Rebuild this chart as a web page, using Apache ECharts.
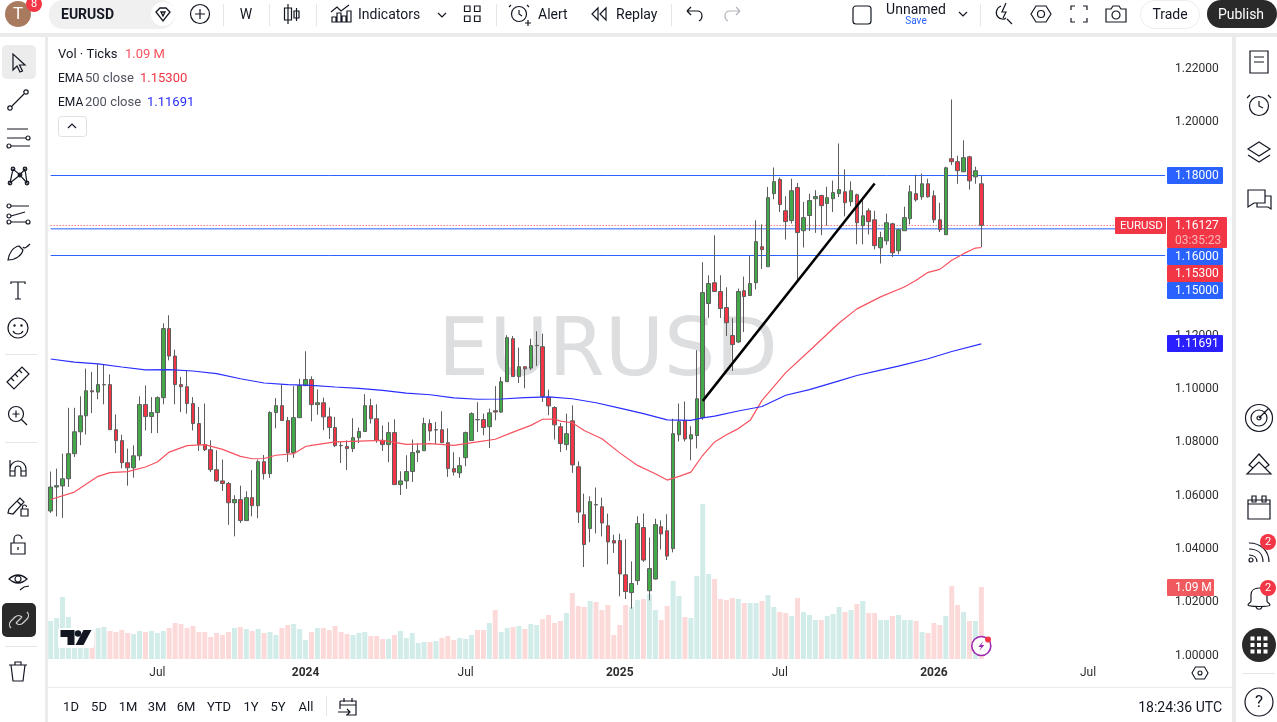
<!DOCTYPE html>
<html>
<head>
<meta charset="utf-8">
<title>EURUSD</title>
<script src="https://cdn.jsdelivr.net/npm/echarts@6/dist/echarts.min.js"></script>
<style>html,body{margin:0;padding:0;background:#ebebeb}#main{width:1277px;height:722px}</style>
</head>
<body>
<div id="main"></div>
<script>
// weekly EURUSD candles
var opens = [
1.0542,1.0632,1.0636,1.0663,1.0757,1.0839,1.0899,1.0993,1.0988,1.1015,
1.1016,1.0847,1.0806,1.0723,1.0704,1.0749,1.0941,1.0896,1.0911,1.0967,
1.1226,1.1123,1.1016,1.1008,1.0945,1.0870,1.0791,1.0772,1.0697,1.0655,
1.0645,1.0573,1.0585,1.0506,1.0592,1.0562,1.0727,1.0682,1.0911,1.0937,
1.0881,1.0761,1.0892,1.1012,1.1035,1.0941,1.0948,1.0895,1.0855,1.0788,
1.0784,1.0776,1.0817,1.0840,1.0937,1.0888,1.0807,1.0791,1.0836,1.0641,
1.0655,1.0690,1.0761,1.0768,1.0870,1.0846,1.0847,1.0798,1.0701,1.0685,
1.0742,1.0806,1.0885,1.0885,1.0858,1.0918,1.0913,1.1027,1.1188,1.1046,
1.1083,1.1078,1.1162,1.1158,1.0968,1.0930,1.0858,1.0791,1.0880,1.0708,
1.0528,1.0476,1.0566,1.0558,1.0487,1.0431,1.0431,1.0303,1.0236,1.0281,
1.0480,1.0243,1.0287,1.0483,1.0468,1.0401,1.0828,1.0881,1.0812,1.0825,
1.0893,1.1320,1.1398,1.1365,1.1305,1.1200,1.1176,1.1368,1.1350,1.1398,
1.1533,1.1458,1.1732,1.1785,1.1668,1.1631,1.1755,1.1593,1.1650,1.1713,
1.1725,1.1695,1.1713,1.1732,1.1739,1.1702,1.1728,1.1612,1.1668,1.1634,
1.1529,1.1555,1.1619,1.1518,1.1593,1.1638,1.1732,1.1720,1.1769,1.1724,
1.1634,1.1578,1.1863,1.1852,1.1814,1.1870,1.1795,1.1769];
var closes = [
1.0632,1.0637,1.0663,1.0757,1.0839,1.0899,1.0993,1.0989,1.1016,1.1016,
1.0847,1.0806,1.0723,1.0704,1.0749,1.0941,1.0896,1.0911,1.0967,1.1226,
1.1123,1.1016,1.1008,1.0945,1.0870,1.0791,1.0772,1.0697,1.0655,1.0645,
1.0573,1.0585,1.0506,1.0592,1.0562,1.0727,1.0682,1.0911,1.0937,1.0881,
1.0761,1.0892,1.1012,1.1035,1.0941,1.0948,1.0895,1.0855,1.0787,1.0787,
1.0776,1.0817,1.0840,1.0937,1.0888,1.0807,1.0791,1.0836,1.0641,1.0655,
1.0690,1.0761,1.0768,1.0870,1.0842,1.0847,1.0798,1.0701,1.0688,1.0712,
1.0836,1.0907,1.0884,1.0855,1.0910,1.0913,1.1027,1.1192,1.1046,1.1083,
1.1075,1.1162,1.1163,1.0972,1.0936,1.0865,1.0795,1.0832,1.0715,1.0538,
1.0416,1.0577,1.0565,1.0497,1.0426,1.0422,1.0306,1.0240,1.0270,1.0495,
1.0358,1.0326,1.0491,1.0456,1.0373,1.0832,1.0877,1.0812,1.0828,1.0963,
1.1361,1.1395,1.1365,1.1301,1.1248,1.1166,1.1365,1.1346,1.1395,1.1552,
1.1522,1.1717,1.1777,1.1691,1.1627,1.1743,1.1586,1.1642,1.1706,1.1721,
1.1687,1.1717,1.1736,1.1747,1.1698,1.1743,1.1623,1.1649,1.1627,1.1537,
1.1567,1.1623,1.1510,1.1597,1.1642,1.1739,1.1709,1.1769,1.1720,1.1634,
1.1597,1.1829,1.1852,1.1818,1.1867,1.1780,1.1818,1.1613];
var highs = [
1.0690,1.0701,1.0757,1.0929,1.0929,1.0972,1.1076,1.1063,1.1094,1.1091,
1.1054,1.0904,1.0828,1.0776,1.0788,1.0972,1.1013,1.0969,1.0972,1.1246,
1.1276,1.1147,1.1045,1.1067,1.0969,1.0932,1.0945,1.0807,1.0770,1.0735,
1.0651,1.0601,1.0637,1.0616,1.0695,1.0735,1.0752,1.0916,1.0965,1.1016,
1.0895,1.1010,1.1038,1.1141,1.1047,1.0998,1.0967,1.0930,1.0895,1.0801,
1.0807,1.0890,1.0855,1.0980,1.0963,1.0942,1.0863,1.0875,1.0886,1.0691,
1.0751,1.0810,1.0795,1.0892,1.0886,1.0876,1.0916,1.0852,1.0762,1.0744,
1.0840,1.0912,1.0950,1.0907,1.0926,1.1010,1.1045,1.1201,1.1198,1.1155,
1.1083,1.1188,1.1216,1.1207,1.0997,1.0935,1.0872,1.0907,1.0938,1.0728,
1.0607,1.0597,1.0630,1.0592,1.0532,1.0453,1.0457,1.0436,1.0353,1.0522,
1.0533,1.0443,1.0513,1.0507,1.0530,1.0888,1.0945,1.0953,1.0860,1.1145,
1.1475,1.1426,1.1576,1.1426,1.1381,1.1265,1.1376,1.1421,1.1498,1.1632,
1.1617,1.1757,1.1830,1.1792,1.1722,1.1788,1.1772,1.1701,1.1732,1.1745,
1.1728,1.1758,1.1781,1.1920,1.1823,1.1778,1.1732,1.1717,1.1677,1.1668,
1.1589,1.1657,1.1623,1.1600,1.1683,1.1763,1.1803,1.1807,1.1788,1.1744,
1.1698,1.1833,1.2085,1.1874,1.1932,1.1874,1.1833,1.1799];
var lows = [
1.0535,1.0522,1.0516,1.0632,1.0744,1.0789,1.0829,1.0909,1.0961,1.0942,
1.0847,1.0759,1.0702,1.0637,1.0667,1.0732,1.0844,1.0834,1.0834,1.0942,
1.1107,1.0942,1.0913,1.0907,1.0844,1.0767,1.0767,1.0688,1.0651,1.0617,
1.0490,1.0447,1.0497,1.0506,1.0522,1.0515,1.0660,1.0666,1.0852,1.0881,
1.0726,1.0741,1.0892,1.1012,1.0878,1.0903,1.0845,1.0812,1.0782,1.0722,
1.0696,1.0763,1.0797,1.0840,1.0870,1.0798,1.0767,1.0725,1.0641,1.0602,
1.0625,1.0651,1.0726,1.0768,1.0805,1.0792,1.0798,1.0670,1.0675,1.0666,
1.0710,1.0806,1.0838,1.0826,1.0778,1.0882,1.0910,1.1027,1.1046,1.1022,
1.1002,1.1070,1.1086,1.0951,1.0901,1.0810,1.0763,1.0770,1.0685,1.0497,
1.0332,1.0425,1.0458,1.0447,1.0342,1.0385,1.0222,1.0212,1.0176,1.0265,
1.0351,1.0207,1.0285,1.0398,1.0358,1.0387,1.0803,1.0803,1.0732,1.0777,
1.0884,1.1266,1.1365,1.1266,1.1198,1.1067,1.1172,1.1213,1.1350,1.1373,
1.1450,1.1458,1.1711,1.1663,1.1560,1.1620,1.1407,1.1530,1.1592,1.1585,
1.1576,1.1612,1.1663,1.1719,1.1647,1.1685,1.1542,1.1542,1.1579,1.1523,
1.1470,1.1540,1.1494,1.1505,1.1593,1.1617,1.1702,1.1709,1.1717,1.1622,
1.1588,1.1578,1.1839,1.1769,1.1814,1.1747,1.1769,1.1532];
// tick volume in millions
var volumes = [
.575,.621,.939,.636,.389,.338,.389,.409,.469,.484,
.424,.409,.439,.394,.378,.424,.409,.424,.394,.424,
.469,.545,.530,.469,.500,.409,.409,.333,.394,.363,
.409,.469,.484,.454,.424,.454,.394,.409,.363,.469,
.515,.530,.454,.288,.409,.469,.469,.439,.500,.409,
.378,.363,.394,.409,.348,.348,.303,.303,.363,.424,
.318,.394,.242,.257,.257,.272,.318,.348,.288,.318,
.303,.363,.439,.439,.545,.742,.409,.469,.484,.500,
.454,.530,.515,.606,.666,.545,.575,.696,.999,.802,
.787,.878,.863,.742,.817,.363,.515,.817,.787,.893,
.908,.984,.742,.590,.802,1.181,.954,.636,.621,1.256,
2.346,1.287,1.211,.908,.893,.923,.908,.848,.848,.848,
.878,.969,.787,.711,.696,.651,.923,.711,.666,.590,
.590,.651,.681,.787,.711,.742,.833,.878,.696,.696,
.590,.590,.651,.666,.590,.590,.575,.409,.394,.545,
.515,.651,1.105,.817,.711,.575,.575,1.09];

// moving averages read at a spaced set of weeks
var ema50Weeks = [0,4,8,10,13,16,18,20,23,26,29,32,34,36,38,41,43,44,48,52,56,60,64,68,72,75,78,81,83,85,86,88,90,93,96,99,102,104,106,108,110,112,114,116,118,120,124,128,133,136,140,144,146,148,150,152,154,156,157];
var ema50Values = [1.0585,1.0613,1.0672,1.0686,1.0690,1.0707,1.0726,1.0763,1.0787,1.0791,1.0773,1.0747,1.0738,1.0739,1.0751,1.0757,1.0784,1.0788,1.0801,1.0804,1.0807,1.0792,1.0795,1.0788,1.0801,1.0811,1.0838,1.0863,1.0886,1.0887,1.0879,1.0873,1.0844,1.0813,1.0760,1.0713,1.0682,1.0658,1.0672,1.0688,1.0751,1.0801,1.0828,1.0851,1.0882,1.0957,1.1061,1.1143,1.1247,1.1300,1.1345,1.1382,1.1407,1.1437,1.1448,1.1482,1.1507,1.1528,1.1530];
var ema200Weeks = [0,4,8,12,16,20,24,28,32,36,40,44,48,52,56,60,64,68,72,76,80,84,88,92,96,100,104,108,110,112,116,120,124,128,133,136,140,143,148,152,157];
var ema200Values = [1.1112,1.1100,1.1094,1.1082,1.1071,1.1072,1.1067,1.1057,1.1038,1.1022,1.1016,1.1013,1.1007,1.1002,1.0994,1.0984,1.0978,1.0966,1.0961,1.0962,1.0967,1.0970,1.0963,1.0948,1.0928,1.0907,1.0884,1.0882,1.0891,1.0898,1.0917,1.0934,1.0976,1.0997,1.1030,1.1050,1.1070,1.1085,1.1113,1.1140,1.1169];

var trendWeeks = [110, 139];
var trendPrices = [1.0955, 1.1770];
var levels = [1.18, 1.16, 1.15];
var lastPrice = 1.16127;
var tickWeeks = [18, 43, 70, 96, 123, 149, 175];
var tickNames = ['Jul', '2024', 'Jul', '2025', 'Jul', '2026', 'Jul'];
var weekCount = 189; // includes the empty weeks on the right

var FONT = 'Roboto';
var INK = '#131722';
var BAND = 5.928;
var iconCount = 0;

function pairs(xs, ys) {
  return xs.map(function (x, i) { return [x, ys[i]]; });
}
function txt(s, x, y, o) {
  o = o || {};
  return {
    type: 'text', x: x, y: y + 1, z: o.z == null ? 30 : o.z, silent: true,
    style: {
      text: s, fill: o.c || INK, fontSize: o.s || 14, fontFamily: o.f || FONT, fontWeight: o.w || 'normal',
      align: o.a || 'left', textAlign: o.a || 'left', verticalAlign: 'middle', textVerticalAlign: 'middle'
    }
  };
}
function box(x, y, w, h, fill, o) {
  o = o || {};
  return {
    type: 'rect', z: o.z == null ? 30 : o.z, silent: true,
    shape: { x: x, y: y, width: w, height: h, r: o.r || 0 },
    style: { fill: fill, stroke: o.stroke || null, lineWidth: o.lw || 1 }
  };
}
// the graphic component has no plain path type, so each icon is registered as a shape
function ic(d, x, y, o) {
  o = o || {};
  var name = 'icon' + (iconCount++);
  echarts.graphic.registerShape(name, echarts.graphic.extendPath(d, {}));
  return {
    type: name, x: x, y: y, z: o.z == null ? 30 : o.z, silent: true,
    style: { fill: o.fill || 'none', stroke: o.fill && !o.c ? null : (o.c || INK), lineWidth: o.w || 1.2 }
  };
}
function dot(x, y, r, fill, o) {
  o = o || {};
  return {
    type: 'circle', z: o.z == null ? 30 : o.z, silent: true,
    shape: { cx: x, cy: y, r: r },
    style: { fill: fill, stroke: o.stroke || null, lineWidth: o.lw || 1 }
  };
}
function circ(x, y, r) {
  return 'M' + (x + r) + ' ' + y + 'a' + r + ' ' + r + ' 0 1 0 ' + (-2 * r) + ' 0a' + r + ' ' + r + ' 0 1 0 ' + (2 * r) + ' 0';
}
function sq(x, y) { return 'M' + (x - 2) + ' ' + (y - 2) + 'h4v4h-4z'; }
function sepV(x, y0, y1) { return box(x, y0, 1, y1 - y0, '#e6e6e6'); }
function sepH(x0, x1, y) { return box(x0, y, x1 - x0, 1, '#e6e6e6'); }

var chrome = [
  // panels
  box(0, 0, 1277, 33, '#fff', { z: -1 }),
  box(0, 37, 45, 685, '#fff', { z: -1 }),
  box(48, 37, 1184, 650, '#fff', { z: -1 }),
  box(48, 688, 1184, 34, '#fff', { z: -1 }),
  box(1236, 37, 41, 685, '#fff', { z: -1 }),
  // watermark
  txt('EURUSD', 608, 353, { s: 81, f: 'DejaVu Sans', c: '#dcdee0', a: 'center', z: 0 }),

  // top bar
  dot(18, 14, 13, '#a87b5e'),
  txt('T', 18, 14, { c: '#fff', s: 17, a: 'center' }),
  dot(34, 4, 8, '#f23645'),
  txt('8', 34, 3, { c: '#fff', s: 11, a: 'center' }),
  box(49, 0, 126, 29, '#f0f0f0', { r: 14 }),
  txt('EURUSD', 61, 14, { s: 14, w: 'bold' }),
  dot(163, 14, 12, '#fff'),
  ic('M-7 -3L-3 -7H3L7 -3L0 6Z M-2 -3L0 1L2 -3Z', 163, 15, { w: 1.3 }),
  ic(circ(0, 0, 9.5) + 'M-5 0H5M0 -5V5', 200, 14),
  sepV(223, 4, 26),
  txt('W', 246, 14, { a: 'center', s: 14 }),
  sepV(269, 4, 26),
  ic('M-4 -10V10M-7.5 -6H-0.5V6H-7.5Z M4.5 -6V7M2 -3H7V4H2Z', 292, 14),
  sepV(316, 4, 26),
  ic('M-9 8V3H-5V8Z M-4 8V-1H0V8Z M1 8V2H5V8Z M6 8V-3H10V8Z M-10 -2L-4 -7L0 -3L8 -9', 341, 14),
  txt('Indicators', 358, 14),
  ic('M-4 -2L0 2L4 -2', 442, 15),
  ic('M-7.5 -8h5.5v5.5h-5.5z M2.5 -8h5.5v5.5h-5.5z M-7.5 2h5.5v5.5h-5.5z M2.5 2h5.5v5.5h-5.5z', 472, 14),
  sepV(496, 4, 26),
  ic(circ(0, 0, 7.5) + 'M0 -4V0L3 2 M-8 -9L-10 -7 M8 -9L10 -7 M6 9H12M9 6V12', 519, 14),
  txt('Alert', 538, 14),
  ic('M-1 -6L-7 0L-1 6Z M7 -6L1 0L7 6Z', 599, 14),
  txt('Replay', 616, 14),
  sepV(671, 4, 26),
  ic('M-7 -3H3C7 -3 8 0 8 2C8 4 7 6 5 7 M-7 -3L-3 -7 M-7 -3L-3 1', 694, 14),
  ic('M7 -3H-3C-7 -3 -8 0 -8 2C-8 4 -7 6 -5 7 M7 -3L3 -7 M7 -3L3 1', 733, 14, { c: '#b2b5be' }),
  box(853, 6, 18, 18, '#fff', { r: 3, stroke: INK, lw: 1.2 }),
  txt('Unnamed', 916, 9, { a: 'center' }),
  txt('Save', 916, 20, { a: 'center', s: 10, c: '#2962ff' }),
  ic('M-4 -2L0 2L4 -2', 963, 14),
  sepV(980, 4, 26),
  ic('M3 -10L-1 -1H3L0 5 M-2 -7C-7 -5 -8 1 -5 4C-3 6 1 7 3 5 M4 6L9 11', 1003, 13),
  ic('M-5 -8H5L10 0L5 8H-5L-10 0Z' + circ(0, 0, 3.5), 1041, 14),
  ic('M-8 -4V-8H-4 M4 -8H8V-4 M-8 4V8H-4 M4 8H8V4', 1079, 14),
  ic('M-10 -5H-5L-3 -8H3L5 -5H10V8H-10Z' + circ(0, 1, 4), 1116, 14),
  box(1140.5, 0.5, 59, 28, '#fff', { r: 14, stroke: '#ececec' }),
  txt('Trade', 1170, 14, { a: 'center' }),
  box(1207, 0, 70, 28, '#2a2a2a', { r: 14 }),
  txt('Publish', 1241, 14, { a: 'center', c: '#fff' }),

  // left toolbar
  box(2, 45, 34, 34, '#ececec', { r: 5 }),
  ic('M-5 -9V7L-1 3L2 9L4.5 8L1.5 2H7Z', 18, 63),
  ic('M-6 6L6 -6' + circ(-8, 8, 2.2) + circ(8, -8, 2.2), 18, 100),
  ic('M-11 -9H10 M-11 0H8 M-7 8H12' + circ(10, 0, 2) + circ(-9, 8, 2), 18, 138),
  ic('M-8 7L-5 -7L2 -1L7 -7L9 7L2 -1Z M-8 7L2 -1' + circ(-8, 7, 1.8) + circ(-5, -7, 1.8) + circ(2, -1, 1.8) + circ(7, -7, 1.8) + circ(9, 7, 1.8), 18, 176),
  ic('M-7 -8H11 M-7 8H8 M-7 2L7 -2' + circ(-9, -8, 2) + circ(-9, 2, 2) + circ(-9, 8, 2) + circ(10, 8, 2), 18, 214),
  ic('M-10 8C-9 1 -5 -5 1 -6L5 -2C4 3 -2 8 -10 8Z M5 -5C6 -3 8 -4 12 -8', 18, 252),
  ic('M-7 -6V-8H7V-6 M0 -8V9 M-3 9H3', 18, 290),
  ic(circ(0, 0, 10) + circ(-3.5, -2.5, 0.6) + circ(3.5, -2.5, 0.6) + 'M-5 3C-3 7 3 7 5 3', 18, 328),
  sepH(5, 37, 354),
  ic('M-11 4L4 -11L11 -4L-4 11Z M-7 0L-4 3 M-3 -4L0 -1 M1 -8L4 -5', 18, 378),
  ic(circ(-2, -2, 7.5) + 'M3.5 3.5L9 9 M-5.5 -2H1.5 M-2 -5.5V1.5', 18, 416),
  sepH(5, 37, 442),
  ic('M-8 -8V1V8H-3V1A3 3 0 0 1 3 1V8H8V1A8 8 0 0 0 -8 1 M-8 3H-3 M3 3H8', 18, 468),
  ic('M-10 7L-9 3L2 -8L6 -4L-5 8Z M-1 -5L3 -1 M3 3H10V10H3Z M4.5 3V1A2 2 0 0 1 8.5 1', 18, 506),
  ic('M-7 -1H7V10H-7Z M-4 -1V-5A4 4 0 0 1 4 -5 M0 3V6', 18, 544),
  ic('M-9 -2Q0 -10 9 -2Q0 6 -9 -2Z' + circ(0, -2, 3) + 'M2 9L6 6L11 5', 18, 581),
  box(2, 603, 34, 34, '#2a2a2a', { r: 5 }),
  ic('M-8 8C-10 6 -10 3 -8 1L-4 -3C-2 -5 1 -5 3 -3 M8 -8C10 -6 10 -3 8 -1L4 3C2 5 -1 5 -3 3 M-3 3L3 -3', 19, 620, { c: '#cfcfcf' }),
  sepH(5, 37, 646),
  ic('M-9 -6H9 M-7 -6L-5 10H5L7 -6 M-3 -6V-9H3V-6', 18, 671),

  // right toolbar
  ic('M-9 -11H9V11H-9Z M-5 -5H5 M-5 0H5', 1259, 62),
  ic(circ(0, 1, 9.5) + 'M0 -4V1L4 3 M-9 -10L-12 -7 M9 -10L12 -7', 1259, 105),
  ic('M0 -10L11 -3L0 4L-11 -3Z M-11 3L0 10L11 3', 1259, 152),
  ic('M-11 -10H6V3H-5L-11 7Z M6 -4H12V9L9 7H-2V3', 1259, 200),
  ic(circ(0, 0, 13.5) + circ(0, 0, 8) + circ(0, 0, 2) + 'M0 0L9 -9', 1259, 418),
  ic('M0 -9L10 2L6 5L0 -1L-6 5L-10 2Z M-6 5L-12 11H12L6 5', 1259, 463),
  ic('M-11 -7H11V12H-11Z M-11 -3H11 M-7 -11H-3V-5H-7Z M3 -11H7V-5H3Z', 1259, 507),
  ic('M-10 -8C2 -8 10 0 10 11 M-10 -2C-1 -2 4 3 4 11 M-10 4C-5 4 -2 7 -2 11' + circ(-8, 9, 2), 1259, 551),
  ic('M-11 8C-11 6 -8 6 -8 4V-2C-8 -7 -4 -9 0 -9C4 -9 8 -7 8 -2V4C8 6 11 6 11 8C11 10 -11 10 -11 8Z M-3 10C-2 13 2 13 3 10', 1259, 597),
  dot(1268, 542, 8, '#f23645'),
  txt('2', 1268, 541, { c: '#fff', s: 11, a: 'center' }),
  dot(1268, 588, 8, '#f23645'),
  txt('2', 1268, 587, { c: '#fff', s: 11, a: 'center' }),
  dot(1259, 645, 17, '#2a2a2a'),
  ic(sq(-6.5, -6.5) + sq(0, -6.5) + sq(6.5, -6.5) + sq(-6.5, 0) + sq(0, 0) + sq(6.5, 0) + sq(-6.5, 6.5) + sq(0, 6.5) + sq(6.5, 6.5), 1259, 645, { fill: '#fff' }),
  sepH(1242, 1275, 673),
  ic(circ(0, 0, 14), 1259, 702),
  txt('?', 1259, 702, { a: 'center', s: 17 }),

  // legend
  txt('Vol · Ticks', 58, 54, { s: 13 }),
  txt('1.09 M', 125, 54, { s: 13, c: '#f7525f' }),
  txt('EMA', 58, 78, { s: 12 }),
  txt('50 close', 85, 78, { s: 13, c: '#50535e' }),
  txt('1.15300', 140, 78, { s: 13, c: '#f23645' }),
  txt('EMA', 58, 102, { s: 12 }),
  txt('200 close', 85, 102, { s: 13, c: '#50535e' }),
  txt('1.11691', 147, 102, { s: 13, c: '#2a2eff' }),
  box(58.5, 116.5, 28, 20, '#fff', { r: 3, stroke: '#dfe1e6' }),
  ic('M-4 2L0 -2L4 2', 72, 126),

  // price axis tags
  box(1167, 167, 56, 17, '#2962ff', { r: 1 }),
  txt('1.18000', 1175, 175, { c: '#fff', s: 12 }),
  box(1115, 217, 51, 17, '#f23645', { r: 1 }),
  txt('EURUSD', 1120, 225, { c: '#fff', s: 11.5 }),
  box(1167, 217, 60, 31, '#f23645', { r: 1 }),
  txt('1.16127', 1175, 225, { c: '#fff', s: 12 }),
  txt('03:35:23', 1175, 239.5, { c: '#fbb4ba', s: 12 }),
  box(1167, 248, 56, 17, '#2962ff', { r: 1 }),
  txt('1.16000', 1175, 256, { c: '#fff', s: 12 }),
  box(1167, 265, 56, 17, '#f23645', { r: 1 }),
  txt('1.15300', 1175, 273, { c: '#fff', s: 12 }),
  box(1167, 282, 56, 17, '#2962ff', { r: 1 }),
  txt('1.15000', 1175, 290, { c: '#fff', s: 12 }),
  box(1167, 335, 56, 17, '#2a1fff', { r: 1 }),
  txt('1.11691', 1175, 343, { c: '#fff', s: 12 }),
  box(1167, 579, 47, 17, '#f05a5e', { r: 1 }),
  txt('1.09 M', 1175, 587, { c: '#fff', s: 12 }),
  box(1170, 660, 55, 6, '#fff', { z: 20 }),
  ic('M-4.5 -6H4.5L8 0L4.5 6H-4.5L-8 0Z' + circ(0, 0, 2), 1200, 673, { w: 1.1 }),

  // logo and the lightning badge
  box(58, 628, 36, 20, '#fff', { z: 5, r: 2 }),
  ic('M-15.5 -7.5H-1.5V7.5H-8.5V-0.5H-15.5Z', 76, 637.5, { fill: '#131722', z: 6 }),
  dot(78, 633.5, 3.2, '#131722', { z: 6 }),
  ic('M7.5 -7.5H15.5L7.5 7.5H-0.5Z', 76, 637.5, { fill: '#131722', z: 6 }),
  dot(981.3, 646, 9.5, '#fff', { stroke: '#9c27b0', lw: 1.6, z: 6 }),
  ic('M2 -5L-3 1H0L-2 5L3 -1H0Z', 981.3, 646, { fill: '#9c27b0', z: 6 }),
  dot(988, 639.5, 3, '#f23645', { z: 6 }),

  // range bar
  txt('1D', 71, 707, { a: 'center', s: 13 }),
  txt('5D', 99, 707, { a: 'center', s: 13 }),
  txt('1M', 128, 707, { a: 'center', s: 13 }),
  txt('3M', 157, 707, { a: 'center', s: 13 }),
  txt('6M', 186, 707, { a: 'center', s: 13 }),
  txt('YTD', 219, 707, { a: 'center', s: 13 }),
  txt('1Y', 251, 707, { a: 'center', s: 13 }),
  txt('5Y', 278, 707, { a: 'center', s: 13 }),
  txt('All', 306, 707, { a: 'center', s: 13 }),
  sepV(326, 696, 716),
  ic('M-8 -6H8V8H-2 M-8 -6V2 M-8 -2H8 M-4 -9V-5 M4 -9V-5 M-10 5H2 M-1 2L2 5L-1 8', 348, 707),
  txt('18:24:36 UTC', 1222, 707, { a: 'right', s: 14 })
];

var week = [];
for (var i = 0; i < weekCount; i++) week.push(String(i));

var gridLeft = 47.7, gridWidth = weekCount * BAND;

function levelSeries(y, color, type) {
  return {
    type: 'line', xAxisIndex: 0, yAxisIndex: 0, z: 2, showSymbol: false, symbol: 'none', silent: true,
    lineStyle: { color: color, width: 1, type: type },
    data: [[0, y], [weekCount - 1, y]]
  };
}

var myChart = echarts.init(document.getElementById('main'), null, { renderer: 'canvas' });
var option = {
  animation: false,
  backgroundColor: '#ebebeb',
  textStyle: { fontFamily: FONT },
  graphic: { elements: chrome },
  grid: [
    { left: gridLeft, width: gridWidth, top: 15.5, height: 693.4 },
    { left: gridLeft, width: gridWidth, top: 459, height: 200 }
  ],
  xAxis: [
    { type: 'category', gridIndex: 0, data: week, show: false, boundaryGap: true },
    {
      type: 'category', gridIndex: 1, data: week, boundaryGap: true,
      axisLine: { show: false }, axisTick: { show: false }, splitLine: { show: false },
      axisLabel: {
        color: '#2e2e2e', fontSize: 12, fontFamily: FONT, margin: 8,
        interval: function (idx) { return tickWeeks.indexOf(idx) >= 0; },
        formatter: function (v, idx) {
          var k = tickWeeks.indexOf(idx);
          if (k < 0) return '';
          return tickNames[k] === 'Jul' ? tickNames[k] : '{y|' + tickNames[k] + '}';
        },
        rich: { y: { fontWeight: 'bold', fontSize: 12, fontFamily: FONT, color: '#2e2e2e' } }
      }
    }
  ],
  yAxis: [
    {
      type: 'value', gridIndex: 0, position: 'right', min: 0.98, max: 1.24, interval: 0.02,
      axisLine: { show: false }, axisTick: { show: false }, splitLine: { show: false },
      axisLabel: {
        color: '#2e2e2e', fontSize: 12, fontFamily: FONT, margin: 7, padding: [6, 0, 0, 0],
        formatter: function (v) { return v > 0.99 && v < 1.23 ? v.toFixed(5) : ''; }
      }
    },
    { type: 'value', gridIndex: 1, min: 0, max: 3.028, show: false }
  ],
  series: [
    {
      name: 'Vol', type: 'bar', xAxisIndex: 1, yAxisIndex: 1, z: 1, barWidth: 5,
      data: volumes.map(function (v, k) {
        return { value: v, itemStyle: { color: closes[k] >= opens[k] ? '#d2ecea' : '#fcdada' } };
      })
    },
    levelSeries(levels[0], '#2962ff', 'solid'),
    levelSeries(levels[1], '#2962ff', 'solid'),
    levelSeries(levels[2], '#2962ff', 'solid'),
    levelSeries(lastPrice, '#f23645', [1, 2]),
    {
      name: 'EURUSD', type: 'candlestick', xAxisIndex: 0, yAxisIndex: 0, z: 3, barWidth: 4,
      data: opens.map(function (o, k) { return [o, closes[k], lows[k], highs[k]]; }),
      itemStyle: {
        color: '#43a84a', color0: '#f23645', borderColor: '#5d5d5d', borderColor0: '#5d5d5d', borderWidth: 1
      }
    },
    {
      name: 'EMA 50', type: 'line', xAxisIndex: 0, yAxisIndex: 0, z: 4, showSymbol: false, symbol: 'none',
      lineStyle: { color: '#f7525f', width: 1.2 }, data: pairs(ema50Weeks, ema50Values)
    },
    {
      name: 'EMA 200', type: 'line', xAxisIndex: 0, yAxisIndex: 0, z: 4, showSymbol: false, symbol: 'none',
      lineStyle: { color: '#2a2eff', width: 1.2 }, data: pairs(ema200Weeks, ema200Values)
    },
    {
      name: 'Trend', type: 'line', xAxisIndex: 0, yAxisIndex: 0, z: 5, showSymbol: false, symbol: 'none',
      lineStyle: { color: '#000', width: 2.5 }, data: pairs(trendWeeks, trendPrices)
    }
  ]
};
myChart.setOption(option);
</script>
</body>
</html>
